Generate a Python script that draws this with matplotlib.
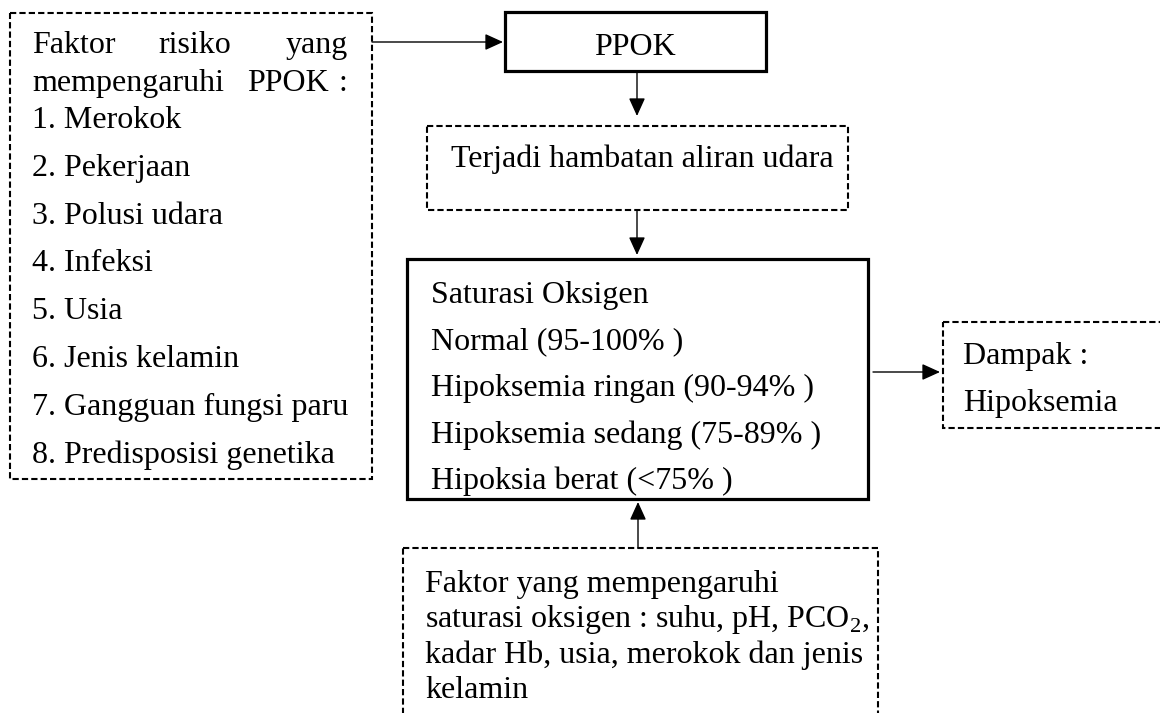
import matplotlib.pyplot as plt
from matplotlib.patches import Rectangle

plt.rcParams['font.family'] = ['Liberation Serif', 'DejaVu Serif']
plt.rcParams['mathtext.fontset'] = 'custom'
plt.rcParams['mathtext.rm'] = 'Liberation Serif'

# texts of the diagram
risk_head = ["Faktor", "risiko", "yang"]
risk_head2 = ["mempengaruhi", "PPOK", ":"]
risk_items = ["1. Merokok", "2. Pekerjaan", "3. Polusi udara", "4. Infeksi",
              "5. Usia", "6. Jenis kelamin", "7. Gangguan fungsi paru",
              "8. Predisposisi genetika"]
ppok_label = "PPOK"
flow_label = "Terjadi hambatan aliran udara"
sat_lines = ["Saturasi Oksigen", "Normal (95-100% )",
             "Hipoksemia ringan (90-94% )", "Hipoksemia sedang (75-89% )",
             "Hipoksia berat (<75% )"]
impact_lines = ["Dampak :", "Hipoksemia"]
factor_lines = ["Faktor yang mempengaruhi",
                r"saturasi oksigen : suhu, pH, PCO$_{\mathrm{2}}$,",
                "kadar Hb, usia, merokok dan jenis",
                "kelamin"]

fig = plt.figure(figsize=(11.6, 7.13), dpi=100)
ax = fig.add_axes([0, 0, 1, 1])
ax.set_xlim(0, 1160)
ax.set_ylim(713, 0)
ax.axis('off')

FS = 23
dash = (0, (3, 1.5))


def box(x0, y0, x1, y1, dashed):
    if dashed:
        r = Rectangle((x0, y0), x1 - x0, y1 - y0, fill=False, ec='k',
                      lw=1.5, ls=dash, clip_on=False)
    else:
        r = Rectangle((x0, y0), x1 - x0, y1 - y0, fill=False, ec='k',
                      lw=2.3, clip_on=False)
    ax.add_patch(r)


def arrow(x0, y0, x1, y1):
    ax.annotate("", xy=(x1, y1), xytext=(x0, y0),
                arrowprops=dict(arrowstyle='-|>,head_length=0.55,head_width=0.25',
                                mutation_scale=20, lw=1.0, color='k',
                                shrinkA=0, shrinkB=0))


def txt(x, y, s, ha='left'):
    ax.text(x, y, s, fontsize=FS, va='baseline', ha=ha)


# left box: risk factors (justified first two lines)
box(10, 13, 372, 479, True)
txt(32, 53, risk_head[0])
txt(195, 53, risk_head[1], 'center')
txt(348, 53, risk_head[2], 'right')
txt(32, 91, risk_head2[0])
txt(329, 91, risk_head2[1], 'right')
txt(347, 91, risk_head2[2], 'right')
for i, s in enumerate(risk_items):
    txt(32, 128 + i * 47.8, s)

# PPOK
box(505, 12, 766, 71, False)
txt(635, 55, ppok_label, 'center')
arrow(372, 42, 503, 42)
arrow(637, 73, 637, 116)

# flow obstruction
box(427, 126, 848, 210, True)
txt(642, 167, flow_label, 'center')
arrow(637, 211, 637, 255)

# saturation box
box(407, 259, 868, 499, False)
for i, s in enumerate(sat_lines):
    txt(431, 303 + i * 46.5, s)

# impact
arrow(873, 372, 940, 372)
box(943, 322, 1175, 428, True)
for i, s in enumerate(impact_lines):
    txt(963, 364 + i * 47, s)

# factors affecting saturation
arrow(638, 548, 638, 502)
box(403, 548, 878, 730, True)
for i, s in enumerate(factor_lines):
    txt(425, 592 + i * 35.3, s)

fig.savefig("out.png", dpi=100)
